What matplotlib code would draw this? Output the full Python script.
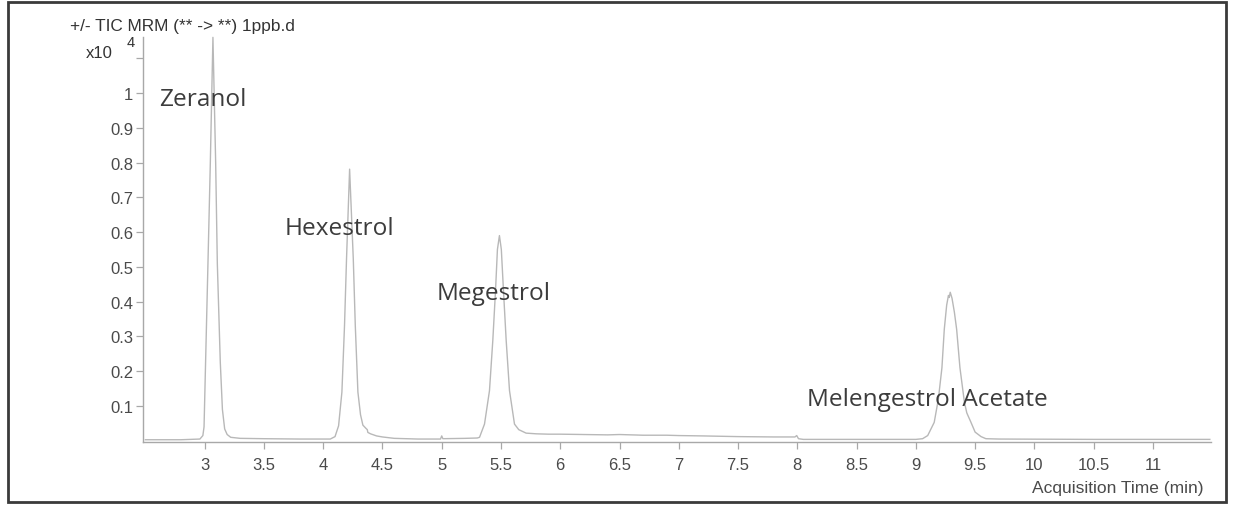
import matplotlib
matplotlib.use("Agg")
import matplotlib.pyplot as plt
from matplotlib.patches import Rectangle

# ---- data (time in min, counts x10^4) ----
time_min = [
    2.50, 2.80, 2.96, 2.985, 2.995, 3.008, 3.028, 3.048, 3.070, 3.093, 3.107,
    3.132, 3.15, 3.169, 3.19, 3.22, 3.30, 3.50, 3.80, 4.00,
    4.06, 4.10, 4.13, 4.158, 4.18, 4.197, 4.223, 4.254, 4.271, 4.293, 4.315,
    4.335, 4.36, 4.372, 4.377, 4.40, 4.45, 4.50, 4.60, 4.80, 4.99, 5.00, 5.01,
    5.20, 5.30, 5.319, 5.361, 5.403, 5.431, 5.454, 5.47, 5.487, 5.503, 5.521,
    5.544, 5.572, 5.614, 5.65, 5.712, 5.80, 5.90, 6.00, 6.20, 6.40, 6.50,
    6.70, 6.90, 7.00, 7.20, 7.50, 7.80, 7.98, 7.995, 8.01, 8.05, 8.50,
    9.00, 9.057, 9.10, 9.155, 9.19, 9.22, 9.24, 9.26, 9.275, 9.282, 9.29,
    9.305, 9.325, 9.344, 9.372, 9.41, 9.43, 9.465, 9.50, 9.55, 9.591, 9.70,
    10.50, 11.48,
]
intensity = [
    0.003, 0.003, 0.005, 0.015, 0.04, 0.226, 0.51, 0.80, 1.16, 0.80, 0.51,
    0.226, 0.09, 0.034, 0.018, 0.010, 0.007, 0.006, 0.005, 0.005,
    0.005, 0.012, 0.043, 0.14, 0.331, 0.523, 0.781, 0.523, 0.331, 0.14, 0.075,
    0.045, 0.036, 0.032, 0.024, 0.020, 0.014, 0.011, 0.007, 0.005, 0.005, 0.014, 0.006,
    0.007, 0.008, 0.010, 0.048, 0.144, 0.288, 0.432, 0.55, 0.59, 0.55, 0.432,
    0.288, 0.144, 0.048, 0.032, 0.022, 0.020, 0.019, 0.019, 0.018, 0.017, 0.018,
    0.016, 0.016, 0.015, 0.014, 0.012, 0.011, 0.011, 0.015, 0.006, 0.004, 0.004,
    0.004, 0.006, 0.015, 0.053, 0.12, 0.21, 0.321, 0.39, 0.418, 0.412, 0.427,
    0.41, 0.37, 0.321, 0.21, 0.11, 0.08, 0.053, 0.025, 0.012, 0.006, 0.005,
    0.004, 0.004,
]

compounds = ["Zeranol", "Hexestrol", "Megestrol", "Melengestrol Acetate"]
label_t = [2.612, 3.675, 4.954, 8.084]
label_y = [0.965, 0.595, 0.408, 0.103]

x_ticks = [3, 3.5, 4, 4.5, 5, 5.5, 6, 6.5, 7, 7.5, 8, 8.5, 9, 9.5, 10, 10.5, 11]
x_tick_labels = ["3", "3.5", "4", "4.5", "5", "5.5", "6", "6.5", "7", "7.5",
                 "8", "8.5", "9", "9.5", "10", "10.5", "11"]
y_ticks = [0.1, 0.2, 0.3, 0.4, 0.5, 0.6, 0.7, 0.8, 0.9, 1.0, 1.1]
y_tick_labels = ["0.1", "0.2", "0.3", "0.4", "0.5", "0.6", "0.7", "0.8", "0.9", "1", ""]

title_text = "+/- TIC MRM (** -> **) 1ppb.d"
x_label = "Acquisition Time (min)"

# ---- figure ----
W, H = 1233, 506
fig = plt.figure(figsize=(W / 100, H / 100), dpi=100)
fig.patch.set_facecolor("white")

ax = fig.add_axes([143 / W, 63 / H, (1211 - 143) / W, (443 - 38) / H])
ax.plot(time_min, intensity, color="#b8b8b8", lw=1.0, clip_on=False)

ax.set_xlim(2.48, 11.49)
ax.set_ylim(-0.0035, 1.161)

for s in ["top", "right"]:
    ax.spines[s].set_visible(False)
for s in ["left", "bottom"]:
    ax.spines[s].set_color("#a8a8a8")
    ax.spines[s].set_linewidth(1.0)

tick_font = dict(family="Liberation Sans", size=12)
ax.set_xticks(x_ticks)
ax.set_xticklabels(x_tick_labels, **tick_font, color="#4a4a4a")
ax.set_yticks(y_ticks)
ax.set_yticklabels(y_tick_labels, **tick_font, color="#4a4a4a")
ax.tick_params(axis="x", direction="out", length=5, width=0.9, color="#a8a8a8", pad=6)
ax.tick_params(axis="y", direction="out", length=5, width=0.9, color="#a8a8a8", pad=2)

for name, tx, ty in zip(compounds, label_t, label_y):
    ax.text(tx, ty, name, ha="left", va="baseline", fontsize=17.6,
            family="Open Sans", color="#3c3c3c")

# header texts
fig.text(70 / W, 1 - 26 / H, title_text, ha="left", va="center",
         family="Liberation Sans", fontsize=12.4, color="#333333")
fig.text(86 / W, 1 - 53 / H, "x10", ha="left", va="center",
         family="Liberation Sans", fontsize=12, color="#333333")
fig.text(127 / W, 1 - 43 / H, "4", ha="left", va="center",
         family="Liberation Sans", fontsize=10.5, color="#333333")
fig.text(1204 / W, 1 - 489 / H, x_label, ha="right", va="center",
         family="Liberation Sans", fontsize=12.5, color="#4a4a4a")

# outer frame
fig.patches.append(Rectangle((8 / W, 3 / H), (1226 - 8) / W, (503 - 3) / H,
                             transform=fig.transFigure, fill=False,
                             edgecolor="#3a3a3a", linewidth=2))

fig.savefig("out.png", dpi=100, facecolor="white")
